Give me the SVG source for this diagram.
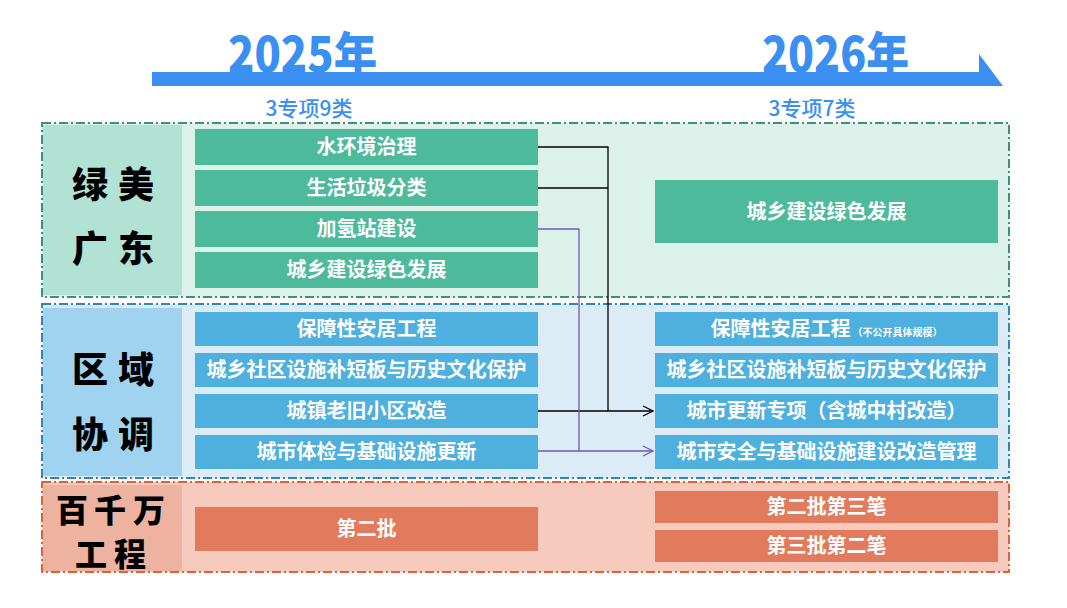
<svg xmlns="http://www.w3.org/2000/svg" width="1067" height="608" viewBox="0 0 1067 608">
<style>
text{font-family:"Noto Sans CJK SC","Noto Sans",sans-serif;}
.sec{stroke-width:2;stroke-dasharray:9 3 2 3;}
.g{fill:#4dba9b;}
.b{fill:#4eb0de;}
.o{fill:#e27b5e;}
.t{fill:#fff;font-size:20px;font-weight:700;text-anchor:middle;}
.lab{fill:#000;font-size:36px;font-weight:900;text-anchor:middle;}
.lab2{fill:#000;font-size:32px;font-weight:900;text-anchor:middle;}
.yr{fill:#3b8ff0;font-size:48px;font-weight:900;}
.sub{fill:#3b8ff0;font-size:21px;font-weight:500;text-anchor:middle;}
.conn{fill:none;stroke-width:1.3;}
</style>
<defs>
<marker id="ab" markerWidth="12" markerHeight="12" refX="11" refY="6" orient="auto" markerUnits="userSpaceOnUse">
<path d="M1,1 L11,6 L1,11" fill="none" stroke="#000" stroke-width="1.3"/>
</marker>
<marker id="ap" markerWidth="12" markerHeight="12" refX="11" refY="6" orient="auto" markerUnits="userSpaceOnUse">
<path d="M1,1 L11,6 L1,11" fill="none" stroke="#6b5bb8" stroke-width="1.3"/>
</marker>
</defs>
<rect width="1067" height="608" fill="#fff"/>

<g id="timeline">
<polygon points="152,72 979,72 979,54 1003,86 152,86" fill="#3b8ff0"/>
<text class="yr" x="228" y="72" textLength="149" lengthAdjust="spacingAndGlyphs">2025年</text>
<text class="yr" x="762" y="72" textLength="147" lengthAdjust="spacingAndGlyphs">2026年</text>
<text class="sub" x="309" y="116">3专项9类</text>
<text class="sub" x="812" y="116">3专项7类</text>
</g>

<g id="sec-green">
<rect class="sec" x="42" y="123" width="967" height="174" fill="#dcf1ea" stroke="#3e8f7d"/>
<rect x="43" y="125" width="139" height="170" fill="#b2e2d3"/>
<text class="lab" x="90" y="198">绿</text><text class="lab" x="136" y="198">美</text>
<text class="lab" x="90" y="262">广</text><text class="lab" x="136" y="262">东</text>
</g>
<g id="sec-blue">
<rect class="sec" x="42" y="304" width="967" height="174" fill="#dcecf7" stroke="#2f86b8"/>
<rect x="43" y="308" width="139" height="168" fill="#9fd3ef"/>
<text class="lab" x="90" y="383">区</text><text class="lab" x="136" y="383">域</text>
<text class="lab" x="90" y="448">协</text><text class="lab" x="136" y="448">调</text>
</g>
<g id="sec-orange">
<rect class="sec" x="42" y="482" width="967" height="90" fill="#f6cbbd" stroke="#d9643a"/>
<rect x="43" y="485" width="139" height="86" fill="#eeb3a0"/>
<text class="lab2" x="72" y="522">百</text><text class="lab2" x="110" y="522">千</text><text class="lab2" x="149" y="522">万</text>
<text class="lab2" x="91" y="566">工</text><text class="lab2" x="130" y="566">程</text>
</g>

<g id="n-water"><rect class="g" x="195" y="129" width="343" height="36"/><text class="t" x="366.5" y="154">水环境治理</text></g>
<g id="n-garbage"><rect class="g" x="195" y="170" width="343" height="36"/><text class="t" x="366.5" y="195">生活垃圾分类</text></g>
<g id="n-hydrogen"><rect class="g" x="195" y="211" width="343" height="36"/><text class="t" x="366.5" y="236">加氢站建设</text></g>
<g id="n-green25"><rect class="g" x="195" y="252" width="343" height="36"/><text class="t" x="366.5" y="277">城乡建设绿色发展</text></g>
<g id="n-green26"><rect class="g" x="655" y="180" width="343" height="63"/><text class="t" x="826.5" y="219">城乡建设绿色发展</text></g>

<g id="n-house25"><rect class="b" x="195" y="312" width="343" height="34"/><text class="t" x="366.5" y="336">保障性安居工程</text></g>
<g id="n-comm25"><rect class="b" x="195" y="353" width="343" height="34"/><text class="t" x="366.5" y="377">城乡社区设施补短板与历史文化保护</text></g>
<g id="n-old25"><rect class="b" x="195" y="394" width="343" height="34"/><text class="t" x="366.5" y="418">城镇老旧小区改造</text></g>
<g id="n-check25"><rect class="b" x="195" y="435" width="343" height="34"/><text class="t" x="366.5" y="459">城市体检与基础设施更新</text></g>

<g id="n-house26"><rect class="b" x="655" y="312" width="343" height="34"/><text class="t" x="826.5" y="336"><tspan>保障性安居工程</tspan><tspan font-size="10" dx="2">（不公开具体规模）</tspan></text></g>
<g id="n-comm26"><rect class="b" x="655" y="353" width="343" height="34"/><text class="t" x="826.5" y="377">城乡社区设施补短板与历史文化保护</text></g>
<g id="n-renew26"><rect class="b" x="655" y="394" width="343" height="34"/><text class="t" x="826.5" y="418">城市更新专项（含城中村改造）</text></g>
<g id="n-safe26"><rect class="b" x="655" y="435" width="343" height="34"/><text class="t" x="826.5" y="459">城市安全与基础设施建设改造管理</text></g>

<g id="n-batch2"><rect class="o" x="195" y="507" width="343" height="44"/><text class="t" x="366.5" y="536">第二批</text></g>
<g id="n-b2n3"><rect class="o" x="655" y="491" width="343" height="32"/><text class="t" x="826.5" y="514">第二批第三笔</text></g>
<g id="n-b3n2"><rect class="o" x="655" y="530" width="343" height="32"/><text class="t" x="826.5" y="553">第三批第二笔</text></g>

<g id="connectors">
<path class="conn" stroke="#000" d="M538,147 H608 V411 H653" marker-end="url(#ab)"/>
<path class="conn" stroke="#000" d="M538,188 H608"/>
<path class="conn" stroke="#000" d="M538,411 H608"/>
<path class="conn" stroke="#6b5bb8" d="M538,229 H579 V451 H653" marker-end="url(#ap)"/>
<path class="conn" stroke="#6b5bb8" d="M538,451 H579"/>
</g>
</svg>
